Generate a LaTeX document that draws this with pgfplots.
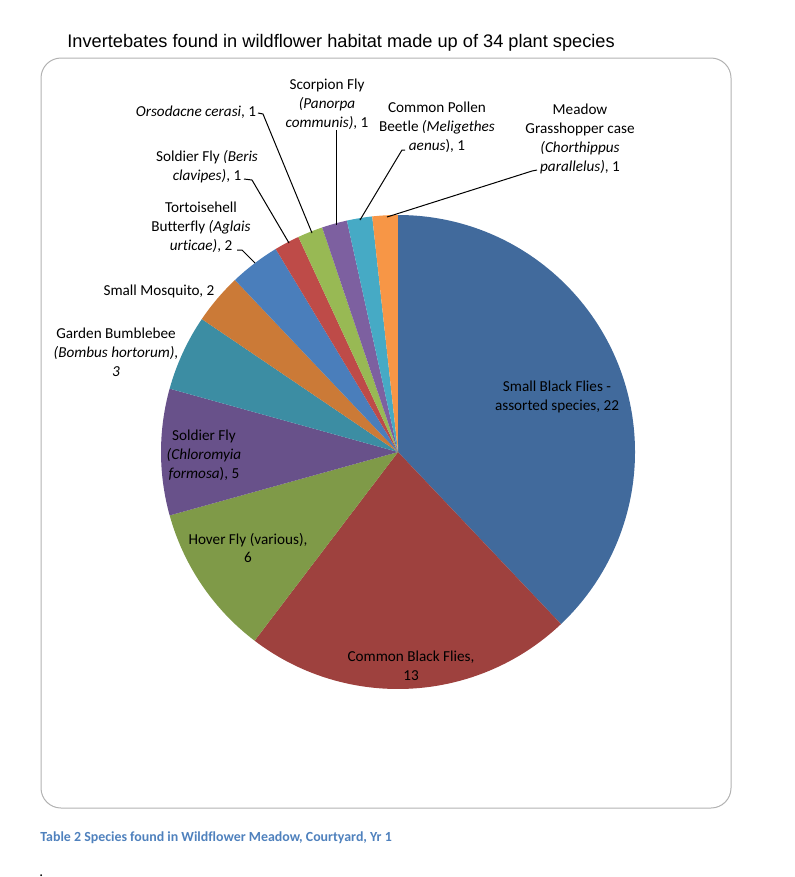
\documentclass[border=0pt]{standalone}
\usepackage{pgfplots}
\pgfplotsset{compat=1.18}
\usepackage{pgfplotstable}
\usepackage{fontspec}
\setmainfont{Carlito}[Ligatures=NoCommon]
\newfontfamily\titlefont{Liberation Sans}

% slice colours: first six darker, then the standard Office set
\definecolor{c1}{HTML}{416A9C}
\definecolor{c2}{HTML}{9E413E}
\definecolor{c3}{HTML}{7F9A48}
\definecolor{c4}{HTML}{68518A}
\definecolor{c5}{HTML}{3C8DA3}
\definecolor{c6}{HTML}{CB7A37}
\definecolor{c7}{HTML}{4A7EBB}
\definecolor{c8}{HTML}{BE4B48}
\definecolor{c9}{HTML}{98B954}
\definecolor{c10}{HTML}{7D60A0}
\definecolor{c11}{HTML}{46AAC5}
\definecolor{c12}{HTML}{F79646}
\definecolor{captionblue}{HTML}{4F81BD}

% species counts, clockwise from 12 o'clock
\pgfplotstableread[col sep=comma]{
value,color
22,c1
13,c2
6,c3
5,c4
3,c5
2,c6
2,c7
1,c8
1,c9
1,c10
1,c11
1,c12
}\piedata

\begin{document}
\begin{tikzpicture}
\begin{axis}[
    x=0.5pt, y=0.5pt,
    y dir=reverse,
    xmin=0, xmax=794, ymin=0, ymax=877,
    scale only axis,
    hide axis,
    clip=false,
    anchor=origin,
]
\path (axis cs:0,0) rectangle (axis cs:794,877);

% chart frame
\draw[rounded corners=10pt, draw=black!30, line width=0.5pt]
    (axis cs:41,58) rectangle (axis cs:731,808);

% pie wedges from the table
\pgfplotstablegetrowsof{\piedata}
\pgfmathtruncatemacro\lastrow{\pgfplotsretval-1}
\def\total{0}
\pgfplotsforeachungrouped \i in {0,...,\lastrow}{%
  \pgfplotstablegetelem{\i}{value}\of\piedata
  \pgfmathsetmacro\total{\total+\pgfplotsretval}%
}
\def\startang{90}
\pgfplotsforeachungrouped \i in {0,...,\lastrow}{%
  \pgfplotstablegetelem{\i}{value}\of\piedata \let\v\pgfplotsretval
  \pgfplotstablegetelem{\i}{color}\of\piedata \let\c\pgfplotsretval
  \pgfmathsetmacro\endang{\startang-\v/\total*360}%
  \edef\temp{\noexpand\fill[\c] (axis cs:398,452) -- ++(\startang:118.5pt)
    arc[start angle=\startang, end angle=\endang, radius=118.5pt] -- cycle;}%
  \temp
  \let\startang\endang
}

% leader lines
\draw[line width=0.5pt] (axis cs:237,250) -- (axis cs:242,250) -- (axis cs:255,263);
\draw[line width=0.5pt] (axis cs:244,179) -- (axis cs:252,180) -- (axis cs:289,243);
\draw[line width=0.5pt] (axis cs:258,113) -- (axis cs:263,114) -- (axis cs:312,233);
\draw[line width=0.5pt] (axis cs:336,130) -- (axis cs:336,225);
\draw[line width=0.5pt] (axis cs:405,150) -- (axis cs:402,150) -- (axis cs:360,220);
\draw[line width=0.5pt] (axis cs:537,170) -- (axis cs:532,171) -- (axis cs:387,217);

% title and labels
\node[anchor=base west, inner sep=0, font=\titlefont\fontsize{9.1}{11}\selectfont]
    at (axis cs:67,47) {Invertebates found in wildflower habitat made up of 34 plant species};

\tikzset{lbl/.style={align=center, inner sep=0, font=\fontsize{7.6}{9.4}\selectfont}}
\node[lbl] at (axis cs:557,397) {Small Black Flies -\\assorted species, 22};
\node[lbl] at (axis cs:411,666) {Common Black Flies,\\13};
\node[lbl] at (axis cs:248,548) {Hover Fly (various),\\6};
\node[lbl] at (axis cs:204,455) {Soldier Fly\\\textit{(Chloromyia}\\\textit{formosa}), 5};
\node[lbl] at (axis cs:116,352) {Garden Bumblebee\\\textit{(Bombus hortorum),}\\\textit{3}};
\node[lbl] at (axis cs:159,291) {Small Mosquito, 2};
\node[lbl] at (axis cs:201,227) {Tortoisehell\\Butterfly \textit{(Aglais}\\\textit{urticae)}, 2};
\node[lbl] at (axis cs:207,167) {Soldier Fly \textit{(Beris}\\\textit{clavipes)}, 1};
\node[lbl] at (axis cs:196,112) {\textit{Orsodacne cerasi}, 1};
\node[lbl] at (axis cs:327,104) {Scorpion Fly\\\textit{(Panorpa}\\\textit{communis)}, 1};
\node[lbl] at (axis cs:437,127) {Common Pollen\\Beetle \textit{(Meligethes}\\\textit{aenus}), 1};
\node[lbl] at (axis cs:580,139) {Meadow\\Grasshopper case\\\textit{(Chorthippus}\\\textit{parallelus)}, 1};

% caption below the chart
\node[anchor=base west, inner sep=0, text=captionblue, font=\bfseries\fontsize{6.95}{8}\selectfont]
    at (axis cs:40,841) {Table 2 Species found in Wildflower Meadow, Courtyard, Yr 1};
\node[anchor=base west, inner sep=0, font=\fontsize{7.6}{9}\selectfont]
    at (axis cs:39,876) {.};
\end{axis}
\end{tikzpicture}
\end{document}
